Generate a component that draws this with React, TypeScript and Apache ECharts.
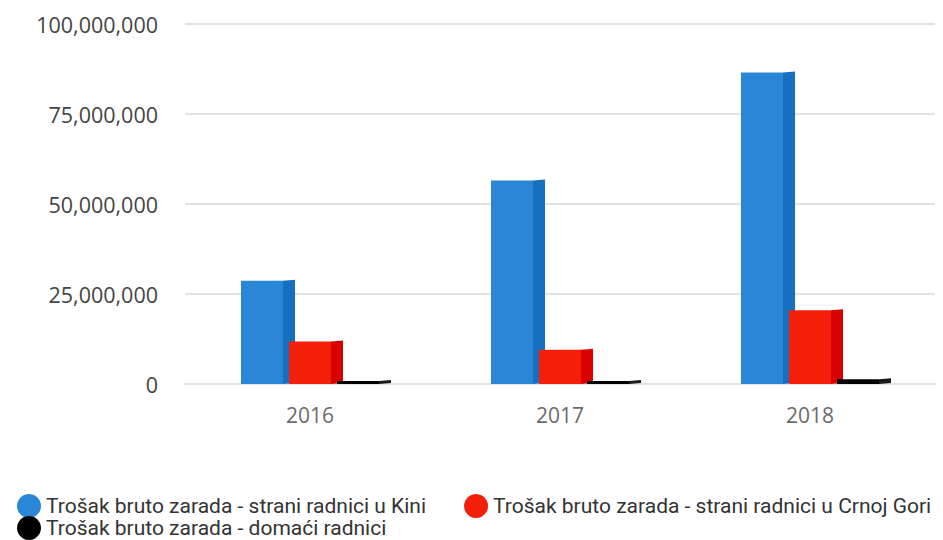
import React, { useEffect, useRef } from "react";
import * as echarts from "echarts";

const categories = ["2016", "2017", "2018"];
const seriesNames = [
  "Trošak bruto zarada - strani radnici u Kini",
  "Trošak bruto zarada - strani radnici u Crnoj Gori",
  "Trošak bruto zarada - domaći radnici",
];
const kini = [28700000, 56500000, 86500000];
const crnaGora = [11800000, 9500000, 20500000];
const domaci = [800000, 700000, 1300000];
const yTicks = [0, 25000000, 50000000, 75000000, 100000000];

const frontColors = ["#2a86d6", "#f41f08", "#000000"];
const sideColors = ["#1570c0", "#d80000", "#1a1a1a"];
const offsets = [-48, 0, 48];

function makeSeries(idx: number, values: number[]) {
  return {
    type: "custom",
    name: seriesNames[idx],
    data: values.map((v, i) => [i, v]),
    itemStyle: { color: frontColors[idx] },
    renderItem: (params: any, api: any) => {
      const cat = api.value(0);
      const val = api.value(1);
      const top = api.coord([cat, val]);
      const base = api.coord([cat, 0]);
      const w = 42;
      const d = 12;
      const x = top[0] + offsets[idx] - w / 2;
      const h = Math.max(base[1] - top[1], 3);
      const ty = base[1] - h;
      return {
        type: "group",
        children: [
          {
            type: "rect",
            shape: { x, y: ty, width: w, height: h },
            style: { fill: frontColors[idx] },
          },
          {
            type: "polygon",
            shape: {
              points: [
                [x + w, ty],
                [x + w + d, ty - 1],
                [x + w + d, base[1] - 1],
                [x + w, base[1]],
              ],
            },
            style: { fill: sideColors[idx] },
          },
        ],
      };
    },
  };
}

export default function App() {
  const ref = useRef<HTMLDivElement>(null);
  useEffect(() => {
    if (!ref.current) return;
    const chart = echarts.init(ref.current, null, { renderer: "svg" });
    const legendText = {
      color: "#333",
      fontFamily: "Roboto",
      fontSize: 21,
    };
    chart.setOption({
      animation: false,
      grid: { left: 185, right: 8, top: 24, bottom: 156 },
      xAxis: {
        type: "category",
        data: categories,
        axisLine: { show: true, lineStyle: { color: "#e2e2e2", width: 2 } },
        axisTick: { show: false },
        axisLabel: {
          margin: 20,
          color: "#6b6b6b",
          fontFamily: "Open Sans",
          fontSize: 21,
        },
      },
      yAxis: {
        type: "value",
        min: yTicks[0],
        max: yTicks[yTicks.length - 1],
        interval: 25000000,
        axisLine: { show: false },
        axisTick: { show: false },
        splitLine: { lineStyle: { color: "#e2e2e2", width: 2 } },
        axisLabel: {
          margin: 27,
          color: "#444",
          fontFamily: "Open Sans",
          fontSize: 21.5,
          formatter: (v: number) => v.toLocaleString("en-US"),
        },
      },
      legend: [
        {
          data: [seriesNames[0], seriesNames[1]],
          left: 12,
          top: 489,
          width: 3000,
          itemGap: 38,
          itemWidth: 24,
          itemHeight: 24,
          icon: "circle",
          textStyle: legendText,
        },
        {
          data: [seriesNames[2]],
          left: 12,
          top: 511,
          itemWidth: 24,
          itemHeight: 24,
          icon: "circle",
          textStyle: legendText,
        },
      ],
      series: [makeSeries(0, kini), makeSeries(1, crnaGora), makeSeries(2, domaci)],
    });
    return () => chart.dispose();
  }, []);
  return <div ref={ref} style={{ width: 943, height: 540, position: "absolute", left: 0, top: 0 }} />;
}
